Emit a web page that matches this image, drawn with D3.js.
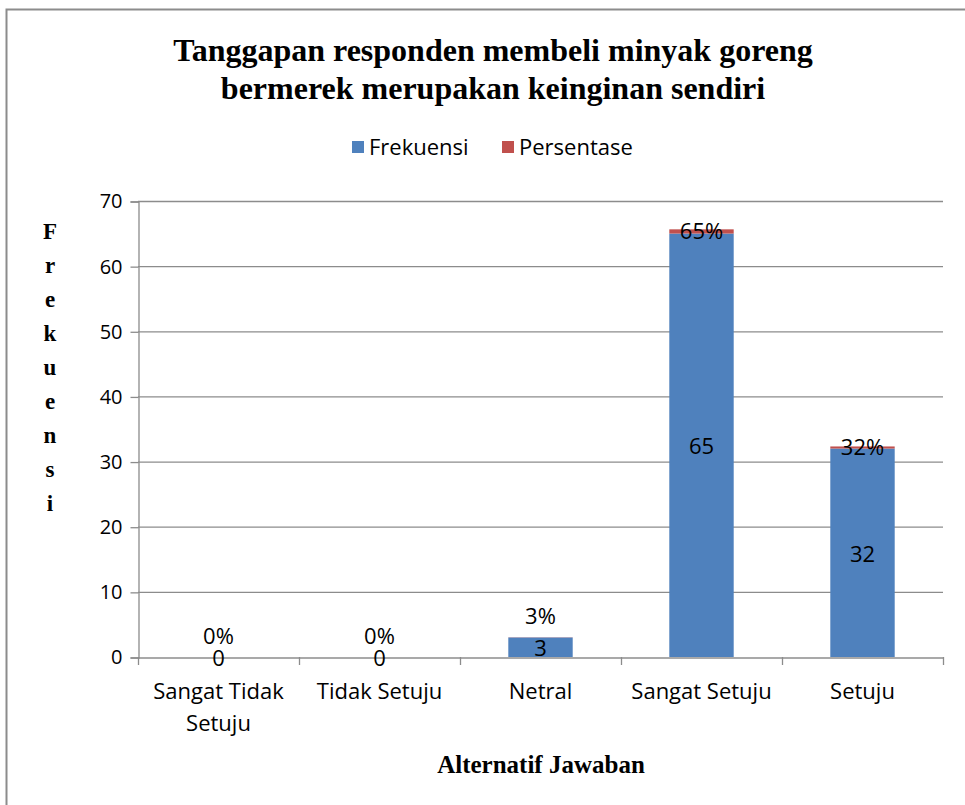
<!DOCTYPE html>
<html>
<head>
<meta charset="utf-8">
<script src="https://cdn.jsdelivr.net/npm/d3@7"></script>
<style>
  body { margin: 0; background: #fff; }
  text { font-family: "Open Sans", "Noto Sans", sans-serif; }
  .serif { font-family: "Liberation Serif", "Times New Roman", serif; font-weight: bold; }
</style>
</head>
<body>
<div id="chart"></div>
<script>
// Data
const categories = ["Sangat Tidak Setuju", "Tidak Setuju", "Netral", "Sangat Setuju", "Setuju"];
const frekuensi = [0, 0, 3, 65, 32];
const persentase = [0, 0, 0.03, 0.65, 0.32];
const yTicks = [0, 10, 20, 30, 40, 50, 60, 70];
const seriesNames = ["Frekuensi", "Persentase"];

const width = 965, height = 805;
const colors = { Frekuensi: "#4f81bd", Persentase: "#c0504d" };

const svg = d3.select("#chart").append("svg")
    .attr("width", width)
    .attr("height", height);

// Outer frame
svg.append("rect")
    .attr("x", 6.5).attr("y", 9.5)
    .attr("width", width + 20).attr("height", height + 20)
    .attr("fill", "white")
    .attr("stroke", "#8c8c8c")
    .attr("stroke-width", 2);

// Plot area
const plot = { left: 138, right: 943, top: 201, bottom: 657 };

const x = d3.scaleBand()
    .domain(categories)
    .range([plot.left, plot.right])
    .paddingInner(0.6)
    .paddingOuter(0.3);

const xOuter = d3.scaleBand()
    .domain(categories)
    .range([plot.left, plot.right]);

const y = d3.scaleLinear()
    .domain([0, 70])
    .range([plot.bottom, plot.top]);

// Gridlines
svg.append("g")
    .selectAll("line")
    .data(yTicks.filter(d => d > 0))
    .join("line")
    .attr("x1", plot.left).attr("x2", plot.right)
    .attr("y1", d => y(d) + 0.5).attr("y2", d => y(d) + 0.5)
    .attr("stroke", "#8c8c8c")
    .attr("stroke-width", 1.3);

// Y axis
const yAxis = svg.append("g")
    .attr("transform", `translate(${plot.left + 0.5},0.5)`)
    .call(d3.axisLeft(y).tickValues(yTicks).tickSize(8).tickPadding(8));
yAxis.select(".domain").attr("stroke", "#8c8c8c").attr("stroke-width", 1.3);
yAxis.selectAll(".tick line").attr("stroke", "#8c8c8c").attr("stroke-width", 1.3);
yAxis.selectAll(".tick text")
    .attr("font-size", 20)
    .attr("font-family", "Open Sans")
    .attr("fill", "#000");

// X axis
const xAxis = svg.append("g")
    .attr("transform", `translate(0,${plot.bottom + 0.5})`)
    .call(d3.axisBottom(xOuter).tickSize(0).tickFormat(""));
xAxis.select(".domain").attr("stroke", "#8c8c8c").attr("stroke-width", 1.3);

// x tick marks at band boundaries
const boundaries = categories.map(c => xOuter(c)).concat([plot.right]);
svg.append("g")
    .selectAll("line")
    .data(boundaries)
    .join("line")
    .attr("x1", d => d + 0.5).attr("x2", d => d + 0.5)
    .attr("y1", plot.bottom).attr("y2", plot.bottom + 8)
    .attr("stroke", "#8c8c8c")
    .attr("stroke-width", 1.3);

// Category labels, wrapped to band width
const catG = svg.append("g");
categories.forEach(c => {
    const cx = xOuter(c) + xOuter.bandwidth() / 2;
    const t = catG.append("text")
        .attr("x", cx)
        .attr("y", plot.bottom + 42)
        .attr("text-anchor", "middle")
        .attr("font-size", 22);
    const words = c.split(" ");
    let line = [];
    let tspan = t.append("tspan").attr("x", cx).attr("dy", 0);
    words.forEach(w => {
        line.push(w);
        tspan.text(line.join(" "));
        if (tspan.node().getComputedTextLength() > xOuter.bandwidth() - 8 && line.length > 1) {
            line.pop();
            tspan.text(line.join(" "));
            line = [w];
            tspan = t.append("tspan").attr("x", cx).attr("dy", 32).text(w);
        }
    });
});

// Stacked data
const rows = categories.map((c, i) => ({ cat: c, Frekuensi: frekuensi[i], Persentase: persentase[i] }));
const stacked = d3.stack().keys(seriesNames)(rows);

svg.append("g")
    .selectAll("g")
    .data(stacked)
    .join("g")
    .attr("fill", d => colors[d.key])
    .selectAll("rect")
    .data(d => d)
    .join("rect")
    .attr("x", d => x(d.data.cat))
    .attr("width", x.bandwidth())
    .attr("y", d => y(d[1]))
    .attr("height", d => y(d[0]) - y(d[1]));

// Data labels
const labels = svg.append("g").attr("font-size", 22).attr("text-anchor", "middle");
rows.forEach((r, i) => {
    const cx = x(r.cat) + x.bandwidth() / 2;
    const base = stacked[0][i];
    const top = stacked[1][i];
    labels.append("text")
        .attr("x", cx)
        .attr("y", (y(base[0]) + y(base[1])) / 2 + 1)
        .attr("dy", "0.36em")
        .text(r.Frekuensi);
    const barTop = y(top[1]);
    const segMid = (y(top[0]) + y(top[1])) / 2;
    const py = (plot.bottom - barTop) < 30 ? barTop - 21 : segMid;
    labels.append("text")
        .attr("x", cx)
        .attr("y", py)
        .attr("dy", "0.36em")
        .text(d3.format(".0%")(r.Persentase));
});

// Title
svg.append("text")
    .attr("class", "serif")
    .attr("x", 493).attr("y", 61)
    .attr("text-anchor", "middle")
    .attr("font-size", 32)
    .text("Tanggapan responden membeli minyak goreng");
svg.append("text")
    .attr("class", "serif")
    .attr("x", 493).attr("y", 99)
    .attr("text-anchor", "middle")
    .attr("font-size", 32)
    .text("bermerek merupakan keinginan sendiri");

// Legend
const legend = svg.append("g").attr("font-size", 22);
const legendX = [352, 502];
seriesNames.forEach((s, i) => {
    legend.append("rect")
        .attr("x", legendX[i]).attr("y", 141)
        .attr("width", 12).attr("height", 12)
        .attr("fill", colors[s]);
    legend.append("text")
        .attr("x", legendX[i] + 17).attr("y", 155)
        .text(s);
});

// Axis titles
svg.append("text")
    .attr("class", "serif")
    .attr("x", 541).attr("y", 773)
    .attr("text-anchor", "middle")
    .attr("font-size", 25)
    .text("Alternatif Jawaban");

const yTitle = svg.append("text")
    .attr("class", "serif")
    .attr("font-size", 23)
    .attr("text-anchor", "middle");
"Frekuensi".split("").forEach((ch, i) => {
    yTitle.append("tspan")
        .attr("x", 50)
        .attr("y", 239 + i * 34)
        .text(ch);
});
</script>
</body>
</html>
